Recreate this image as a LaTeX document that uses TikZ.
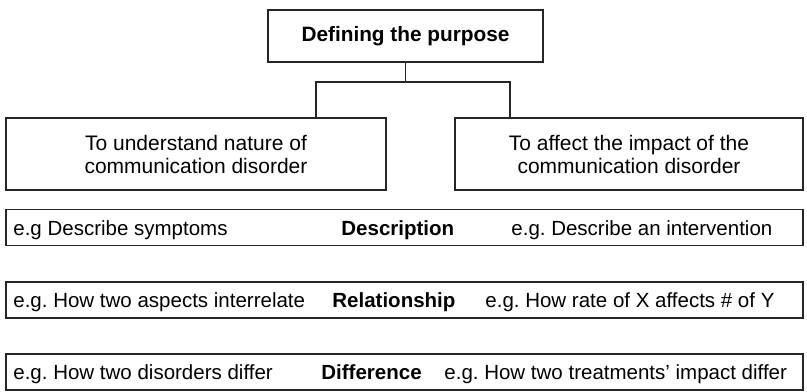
\documentclass[tikz,border=0pt]{standalone}
\usepackage{fontspec}
\setmainfont{Liberation Sans}
\frenchspacing
\newcommand{\rowfont}{\fontsize{10.25}{12}\selectfont}
\newcommand{\boxfont}{\fontsize{10.5}{11.5}\selectfont}
\tikzset{
  purpose/.style={
    draw=black!85, line width=0.6pt, inner sep=0pt,
    align=center, font=\boxfont
  },
  kindrow/.style={
    draw=black!85, line width=0.6pt, inner sep=0pt,
    minimum width=398.5pt, minimum height=18.25pt
  },
  eg/.style={anchor=base west, inner sep=0pt, font=\rowfont},
  kindname/.style={anchor=base west, inner sep=0pt, font=\rowfont\bfseries}
}

\begin{document}
\begin{tikzpicture}[x=0.5pt, y=-0.5pt]
%one unit = one pixel of the 807x391 picture, y runs downwards
\newcommand{\lx}{13}
\newcommand{\bl}{7.5}
\useasboundingbox (0,0) rectangle (807,391);
\node [purpose, minimum width=137.5pt, minimum height=26pt, font=\fontsize{10.4}{12}\selectfont\bfseries] (top) at (405.5,36) {Defining the purpose};
\node [purpose, minimum width=190pt, minimum height=36pt] (nature) at (196,154) {To understand nature of\\communication disorder};
\node [purpose, minimum width=174pt, minimum height=36pt] (impact) at (629,154) {To affect the impact of the\\communication disorder};
\coordinate (fork) at (405.5,82);
\draw [draw=black!85, line width=0.6pt] (top.south) -- (fork);
\draw [draw=black!85, line width=0.6pt] (fork) -| ([xshift=60pt]nature.north);
\draw [draw=black!85, line width=0.6pt] (fork) -| ([xshift=-59.5pt]impact.north);
%description
\node [kindrow] (desc) at (404.5,227.5) {};
\node [eg] (descl) at (\lx,227.5+\bl) {e.g Describe symptoms};
\node [kindname] (descm) at (341,227.5+\bl) {Description};
\node [eg] (descr) at (511,227.5+\bl) {e.g. Describe an intervention};
%relationship
\node [kindrow, minimum height=18pt] (rel) at (404.5,300) {};
\node [eg] (rell) at (\lx,300+\bl) {e.g. How two aspects interrelate};
\node [kindname] (relm) at (332,300+\bl) {Relationship};
\node [eg] (relr) at (485,300+\bl) {e.g. How rate of X affects \# of Y};
%difference
\node [kindrow, minimum height=18pt] (diff) at (404.5,372) {};
\node [eg] (diffl) at (\lx,372+\bl) {e.g. How two disorders differ};
\node [kindname] (diffm) at (321,372+\bl) {Difference};
\node [eg] (diffr) at (444,372+\bl) {e.g. How two treatments’ impact differ};
\end{tikzpicture}
\end{document}
